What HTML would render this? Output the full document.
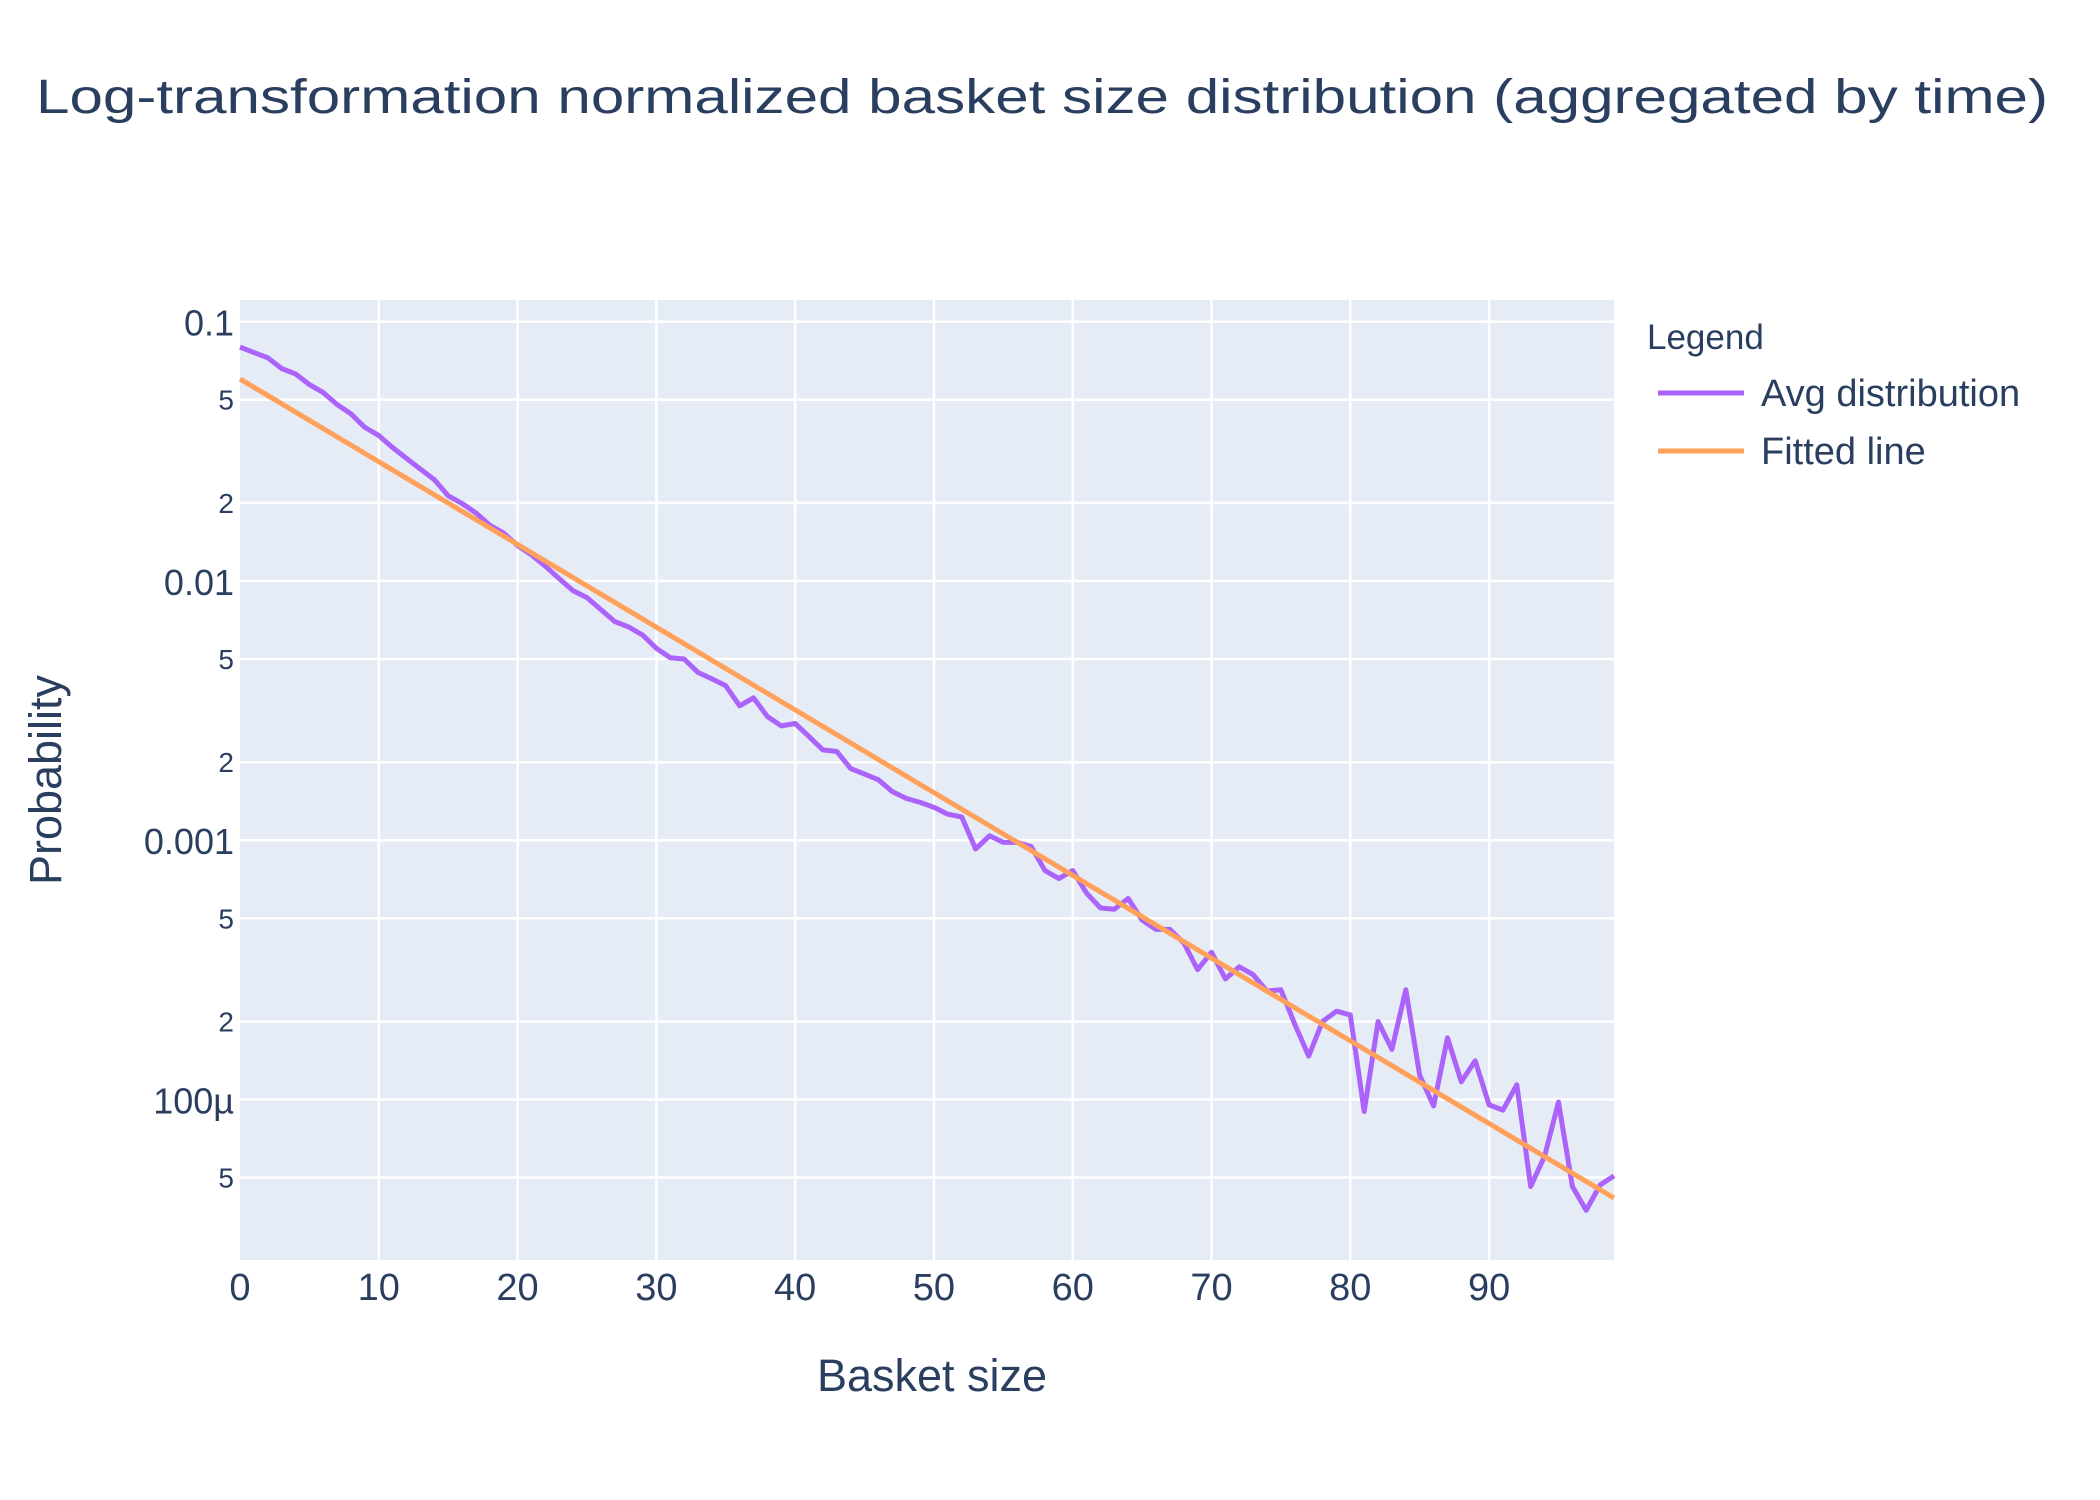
<!DOCTYPE html>
<html><head><meta charset="utf-8"><style>
html,body{margin:0;padding:0;background:#fff;}
svg{display:block;font-family:"Liberation Sans",Arial,sans-serif;}
</style></head><body>
<svg id="chart" width="2100" height="1500" viewBox="0 0 2100 1500" xmlns="http://www.w3.org/2000/svg">
<rect width="2100" height="1500" fill="#fff"/>
<text x="1042" y="113" text-anchor="middle" font-size="48" fill="#2a3f5f" textLength="2012" lengthAdjust="spacingAndGlyphs">Log-transformation normalized basket size distribution (aggregated by time)</text>
<rect x="240" y="300" width="1374" height="960" fill="#E5ECF6"/>
<g id="grid"></g>
<g id="yticks"></g>
<g id="xticks"></g>
<g id="series"></g>
<text x="932" y="1391" text-anchor="middle" font-size="45" fill="#2a3f5f">Basket size</text>
<text transform="translate(61,780) rotate(-90)" text-anchor="middle" font-size="45" fill="#2a3f5f">Probability</text>
<g>
<text x="1647" y="349" font-size="35" fill="#2a3f5f">Legend</text>
<g>
<line x1="1658" y1="393" x2="1744" y2="393" stroke="#ab63fa" stroke-width="5"/>
<text x="1761" y="406" font-size="38" fill="#2a3f5f">Avg distribution</text>
</g>
<g>
<line x1="1658" y1="451" x2="1744" y2="451" stroke="#FFA15A" stroke-width="5"/>
<text x="1761" y="464" font-size="38" fill="#2a3f5f">Fitted line</text>
</g>
</g>
</svg>
<script>
const avgY = [0.0798,0.0760,0.0726,0.0660,0.0629,0.0572,0.0533,0.0479,0.0441,0.0391,
0.0364,0.0327,0.0297,0.0270,0.0246,0.0213,0.0199,0.0183,0.0164,0.0153,
0.0137,0.0126,0.0114,0.0102,0.00917,0.00863,0.00776,0.00698,0.00665,0.00619,
0.00550,0.00506,0.00500,0.00444,0.00419,0.00394,0.00330,0.00354,0.00300,0.00276,
0.00282,0.00251,0.00223,0.00220,0.00189,0.00180,0.00171,0.00154,0.00145,0.00140,
0.00134,0.00126,0.00123,0.000925,0.00104,0.000981,0.000981,0.000946,0.000764,0.000711,
0.000764,0.000625,0.000548,0.000542,0.000596,0.000492,0.000453,0.000453,0.000402,0.000317,
0.000370,0.000292,0.000325,0.000303,0.000262,0.000265,0.000195,0.000147,0.000200,0.000219,
0.000212,0.0000899,0.000200,0.000156,0.000265,0.000124,0.0000944,0.000173,0.000117,0.000141,
0.0000953,0.0000910,0.000114,0.0000462,0.0000605,0.0000977,0.0000462,0.0000374,0.0000468,0.0000508];
const fitX = [0, 99];
const fitY = [0.0601, 0.0000417];
const xTicks = [0,10,20,30,40,50,60,70,80,90];
const yMajor = [0.1, 0.01, 0.001, 0.0001];
const yMajorLabels = ["0.1","0.01","0.001","100µ"];
const yMinor = [0.05,0.02,0.005,0.002,0.0005,0.0002,0.00005];
const yMinorLabels = ["5","2","5","2","5","2","5"];

const X0=240, X1=1614, Y0=300, Y1=1260;
const xMin=0, xMax=99, lMax=-0.9163, lMin=-4.619;
const xs = v => X0 + (v-xMin)/(xMax-xMin)*(X1-X0);
const ys = v => Y0 + (lMax-Math.log10(v))/(lMax-lMin)*(Y1-Y0);
const NS="http://www.w3.org/2000/svg";
function mk(tag, parent, attrs){const e=document.createElementNS(NS,tag);for(const k in attrs)e.setAttribute(k,attrs[k]);parent.appendChild(e);return e;}
const grid=document.getElementById('grid'), yt=document.getElementById('yticks'), xt=document.getElementById('xticks'), ser=document.getElementById('series');

xTicks.forEach((t,i)=>{
  if(t>0){const g=mk('line',grid,{x1:xs(t),x2:xs(t),y1:Y0,y2:Y1,stroke:'#fff','stroke-width':2.5});
  
  }
  const tx=mk('text',xt,{x:xs(t),y:1300,'text-anchor':'middle','font-size':38,fill:'#2a3f5f'});
  tx.textContent=String(t);
  
  
});
yMajor.forEach((v,i)=>{
  const g=mk('line',grid,{x1:X0,x2:X1,y1:ys(v),y2:ys(v),stroke:'#fff','stroke-width':2.5});
  
  
  const tx=mk('text',yt,{x:234,y:ys(v)+14,'text-anchor':'end','font-size':36,fill:'#2a3f5f'});
  tx.textContent=yMajorLabels[i];
  
  
});
yMinor.forEach((v,i)=>{
  const g=mk('line',grid,{x1:X0,x2:X1,y1:ys(v),y2:ys(v),stroke:'#fff','stroke-width':2.5});
  
  
  const tx=mk('text',yt,{x:234,y:ys(v)+10,'text-anchor':'end','font-size':28,fill:'#2a3f5f'});
  tx.textContent=yMinorLabels[i];
  
  
});
const avgPts=avgY.map((v,i)=>xs(i).toFixed(1)+','+ys(v).toFixed(1)).join(' ');
const p1=mk('polyline',ser,{points:avgPts,fill:'none',stroke:'#ab63fa','stroke-width':5,'stroke-linejoin':'round'});


const fitPts=fitX.map((x,i)=>xs(x).toFixed(1)+','+ys(fitY[i]).toFixed(1)).join(' ');
const p2=mk('polyline',ser,{points:fitPts,fill:'none',stroke:'#FFA15A','stroke-width':5});


</script>
</body></html>
